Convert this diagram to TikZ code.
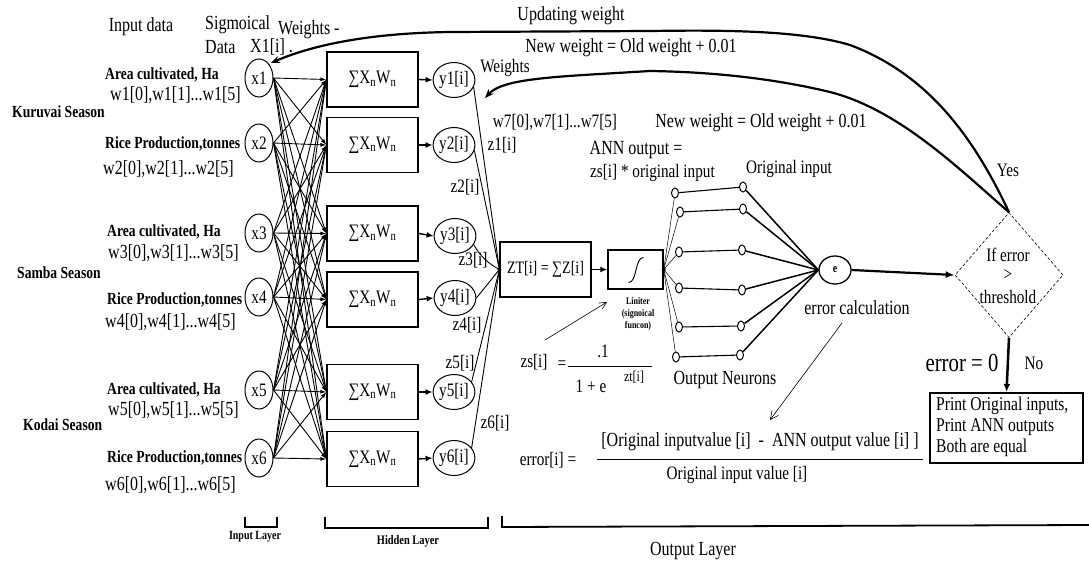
\documentclass[tikz,border=0pt]{standalone}
\usepackage{fontspec}
\setmainfont[FakeStretch=0.8]{Liberation Serif}
\usetikzlibrary{arrows.meta,shapes.geometric}
\begin{document}
\begin{tikzpicture}[x=1pt,y=-1pt,
  txt/.style={font=\fontsize{20}{22}\selectfont, inner sep=0pt},
  stxt/.style={font=\fontsize{19}{21}\selectfont, inner sep=0pt},
  btxt/.style={font=\fontsize{17}{19}\selectfont\bfseries, inner sep=0pt},
  hbox/.style={draw, line width=1.2pt, minimum width=91pt, minimum height=55pt, inner sep=0pt, font=\fontsize{19}{21}\selectfont},
  xneu/.style={draw, ellipse, line width=1pt, minimum width=28pt, minimum height=38pt, inner sep=0pt, font=\fontsize{19}{21}\selectfont},
  yneu/.style={draw, ellipse, line width=1pt, minimum width=37pt, minimum height=35pt, inner sep=0pt, font=\fontsize{19}{21}\selectfont},
  sneu/.style={draw, ellipse, line width=1pt, minimum width=7pt, minimum height=10pt, inner sep=0pt},
  conn/.style={line width=0.9pt},
  bigcurve/.style={line width=2.2pt, -{Stealth[length=9pt,width=7pt]}},
  bracket/.style={line width=1.8pt}
]
\useasboundingbox (0,0) rectangle (1089,565);

% ---------- top-left labels ----------
\node[txt] (inp) at (141,27) {Input data};
\node[txt, anchor=west] (sig) at (205,25) {Sigmoical};
\node[txt, anchor=west] (dat) at (205,47) {Data};
\node[txt, anchor=west] (x1i) at (250,47) {X1[i] .};
\node[txt, anchor=west] (wts) at (278,30) {Weights -};

% ---------- left labels ----------
\node[btxt, anchor=west] at (105,75) {Area cultivated, Ha};
\node[txt, anchor=west] at (110,95) {w1[0],w1[1]...w1[5]};
\node[btxt, anchor=west] at (12,112) {Kuruvai Season};
\node[btxt, anchor=west] at (105,144) {Rice Production,tonnes};
\node[txt, anchor=west] at (103,169) {w2[0],w2[1]...w2[5]};
\node[btxt, anchor=west] at (107,232) {Area cultivated, Ha};
\node[txt, anchor=west] at (108,253) {w3[0],w3[1]...w3[5]};
\node[btxt, anchor=west] at (17,273) {Samba Season};
\node[btxt, anchor=west] at (107,300) {Rice Production,tonnes};
\node[txt, anchor=west] at (105,322) {w4[0],w4[1]...w4[5]};
\node[btxt, anchor=west] at (107,390) {Area cultivated, Ha};
\node[txt, anchor=west] at (108,410) {w5[0],w5[1]...w5[5]};
\node[btxt, anchor=west] at (23,425) {Kodai Season};
\node[btxt, anchor=west] at (107,458) {Rice Production,tonnes};
\node[txt, anchor=west] at (105,485) {w6[0],w6[1]...w6[5]};

% ---------- input neurons ----------
\node[xneu] (x1) at (259,78) {x1};
\node[xneu] (x2) at (259,143) {x2};
\node[xneu] (x3) at (259,233) {x3};
\node[xneu] (x4) at (259,297) {x4};
\node[xneu] (x5) at (259,390) {x5};
\node[xneu] (x6) at (259,458) {x6};

% ---------- hidden boxes ----------
\node[hbox] (h1) at (372.5,79.5) {∑X\textsubscript{n}W\textsubscript{n}};
\node[hbox] (h2) at (372.5,145) {∑X\textsubscript{n}W\textsubscript{n}};
\node[hbox] (h3) at (372.5,233.5) {∑X\textsubscript{n}W\textsubscript{n}};
\node[hbox] (h4) at (372.5,299.5) {∑X\textsubscript{n}W\textsubscript{n}};
\node[hbox] (h5) at (372.5,392) {∑X\textsubscript{n}W\textsubscript{n}};
\node[hbox] (h6) at (372.5,459) {∑X\textsubscript{n}W\textsubscript{n}};

\foreach \i in {1,...,6}{
  \foreach \j in {1,...,6}{
    \draw[conn, -{Latex[length=6pt,width=4pt]}] (x\i.east) -- (h\j.west);
  }
}

% ---------- hidden outputs ----------
\node[yneu] (y1) at (454,80) {y1[i]};
\node[yneu] (y2) at (454,145) {y2[i]};
\node[yneu] (y3) at (455,236) {y3[i]};
\node[yneu] (y4) at (455,298) {y4[i]};
\node[yneu] (y5) at (454,392) {y5[i]};
\node[yneu] (y6) at (454,458) {y6[i]};
\foreach \k in {1,...,6}{
  \draw[line width=1.4pt, -{Latex[length=7pt,width=6pt]}] (h\k.east) -- (y\k.west);
}

% ---------- zT box ----------
\node[draw, line width=1.2pt, minimum width=91pt, minimum height=55pt, inner sep=0pt,
      font=\fontsize{17.5}{19}\selectfont] (zT) at (545.5,269.5) {ZT[i] = ∑Z[i]};
\draw[conn] (y1.-20) -- (zT.west);
\draw[conn] (y2.-15) -- (zT.west);
\draw[conn] (y3.-25) to[bend right=15] (zT.west);
\draw[conn] (y4.east) -- (zT.west);
\draw[conn] (y5.30) -- (zT.west);
\draw[conn] (y6.30) -- (zT.west);
\fill (zT.west) circle (2pt);

\node[stxt] at (502,145) {z1[i]};
\node[stxt] at (465,187) {z2[i]};
\node[stxt] at (473,260) {z3[i]};
\node[stxt] at (467,325) {z4[i]};
\node[stxt] at (460,363) {z5[i]};
\node[stxt] at (495,423) {z6[i]};

% ---------- limiter ----------
\node[draw, line width=1.4pt, minimum width=55pt, minimum height=39pt, inner sep=0pt] (lim) at (635.5,269.5) {};
\draw[line width=0.9pt] ([shift={(-7,13)}]lim.center) .. controls ++(9,0) and ++(-9,0) .. ([shift={(8,-12)}]lim.center);
\draw[line width=1.4pt, -{Latex[length=7pt,width=6pt]}] (zT.east) -- (lim.west);
\node[font=\fontsize{10}{11}\selectfont\bfseries, inner sep=0pt, align=center] (limlbl) at (638,314) {Liniter\\[1pt](signoical\\[1pt]funcon)};

% ---------- output neurons ----------
\fill (lim.east) circle (2pt);
\node[sneu] (oa1) at (675,193) {};
\node[sneu] (oa2) at (680,212) {};
\node[sneu] (oa3) at (679,252) {};
\node[sneu] (oa4) at (679,288) {};
\node[sneu] (oa5) at (679,327) {};
\node[sneu] (oa6) at (676,357) {};
\node[sneu] (ob1) at (743,187) {};
\node[sneu] (ob2) at (743,209) {};
\node[sneu] (ob3) at (742,250) {};
\node[sneu] (ob4) at (742,290) {};
\node[sneu] (ob5) at (741,326) {};
\node[sneu] (ob6) at (740,355) {};
\node[draw, ellipse, line width=1.3pt, minimum width=32pt, minimum height=28pt, inner sep=0pt,
      font=\fontsize{12.5}{13}\selectfont\bfseries] (e) at (835,270) {e};
\foreach \k in {1,...,6}{
  \draw[line width=0.5pt] (lim.east) -- (oa\k);
  \draw[line width=1.1pt] (oa\k) -- (ob\k);
  \draw[line width=1.5pt] (ob\k) -- (e.west);
}

% ---------- upper texts ----------
\node[txt] (upd) at (571,16) {Updating weight};
\node[txt] (nw1) at (631,48) {New weight = Old weight + 0.01};
\node[stxt] (wts2) at (505,68) {Weights};
\node[stxt] (w7) at (555,122) {w7[0],w7[1]...w7[5]};
\node[txt] (nw2) at (761,123) {New weight = Old weight + 0.01};
\node[txt] (ann) at (636,150) {ANN output =};
\node[stxt, anchor=west] (zsi) at (590,173) {zs[i] * original input};
\node[stxt] (oi) at (789,169) {Original input};
\node[stxt] (yes) at (1008,170) {Yes};
\node[txt] (eclc) at (857,308) {error calculation};
\node[txt] (onr) at (725,380) {Output Neurons};

% ---------- decision ----------
\node[draw, diamond, densely dashed, line width=0.6pt, minimum width=108pt, minimum height=125pt, inner sep=0pt] (dia) at (1009,275) {};
\node[stxt] at (1008,255) {If error};
\node[stxt] at (1008,275) {>};
\node[stxt] at (1008,297) {threshold};
\draw[line width=2.2pt, -{Latex[length=9pt,width=7pt]}] (e.east) -- (dia.west);

\node[draw, line width=2.2pt, minimum width=153pt, minimum height=70pt, inner sep=0pt] (pb) at (1006.5,428) {};
\node[anchor=north west, align=left, inner sep=0pt, font=\fontsize{19.5}{21}\selectfont] at (936,397) {Print Original inputs,\\Print ANN outputs\\Both are equal};
\draw[line width=2.5pt, -{Latex[length=8pt,width=7pt]}] (dia.south) -- (pb.north);
\node[font=\fontsize{26}{28}\selectfont, inner sep=0pt] at (962,363) {error = 0};
\node[stxt] at (1034,363) {No};

% ---------- feedback curves ----------
\draw[bigcurve, shorten >=2pt] (dia.north) .. controls (975,140) and (930,75) .. (850,45)
   .. controls (800,30) and (720,30) .. (650,31) -- (450,32)
   .. controls (380,33) and (320,42) .. (x1.55);
\draw[bigcurve] (dia.north) .. controls (960,170) and (900,110) .. (830,92)
   .. controls (780,80) and (720,72) .. (650,71) -- (600,74)
   .. controls (530,78) and (500,82) .. (485,98);

% ---------- formulas ----------
\node[stxt] (zs) at (534,362) {zs[i]};
\node[stxt] at (562,365) {=};
\draw[line width=0.6pt] (568,366) -- (652,366);
\node[stxt] at (603,351) {.1};
\node[stxt] at (591,386) {1 + e};
\node[font=\fontsize{15}{16}\selectfont, inner sep=0pt] at (634,377) {zt[i]};
\draw[line width=0.6pt, -{Straight Barb[length=7pt,width=7pt]}] (545,340) -- (607,302);

\node[stxt] (err) at (548,460) {error[i] =};
\node[font=\fontsize{20}{22}\selectfont, inner sep=0pt] at (760,442) {[Original inputvalue [i] \ - \ ANN output value [i] ]};
\draw[line width=0.8pt] (597,459) -- (923,459);
\node[stxt] at (737,475) {Original input value [i]};
\draw[line width=0.6pt, -{Straight Barb[length=8pt,width=8pt]}] (842,323) -- (770,420);

% ---------- layer brackets ----------
\draw[bracket] (245,517) -- (245,527) -- (277,527) -- (277,517);
\node[font=\fontsize{12.5}{14}\selectfont\bfseries, inner sep=0pt] at (255,537) {Input Layer};
\draw[bracket] (325,517) -- (325,528) -- (488,528) -- (488,517);
\node[font=\fontsize{13}{15}\selectfont\bfseries, inner sep=0pt] at (408,541) {Hidden Layer};
\draw[bracket] (502,516) -- (502,527) -- (1089,525);
\node[txt] at (693,551) {Output Layer};
\end{tikzpicture}
\end{document}
